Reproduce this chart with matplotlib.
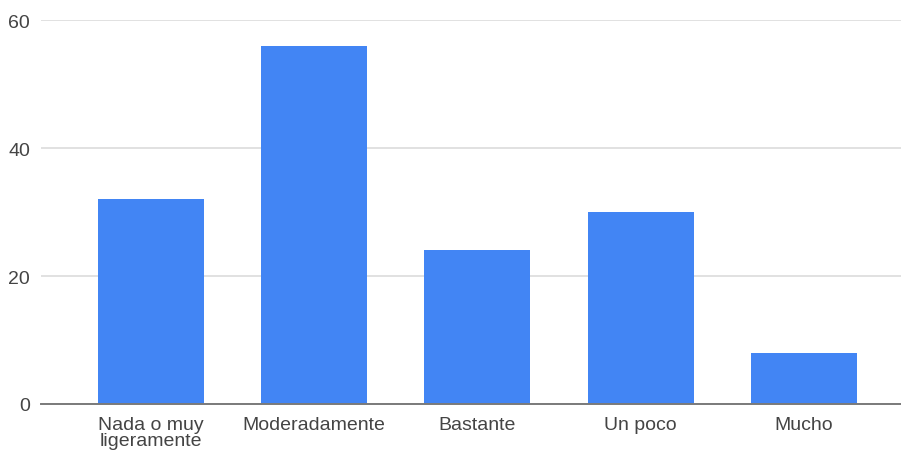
import matplotlib
matplotlib.use('Agg')
import matplotlib.pyplot as plt
import numpy as np

categories = ['Nada o muy\nligeramente', 'Moderadamente', 'Bastante', 'Un poco', 'Mucho']
values = [32, 56, 24, 30, 8]
yticks = [0, 20, 40, 60]

plt.rcParams['font.family'] = ['Liberation Sans', 'DejaVu Sans']

fig = plt.figure(figsize=(9.01, 4.52), dpi=100)
ax = fig.add_axes([41 / 901, 47 / 452, 860 / 901, 384 / 452])

x = np.arange(len(categories))
ax.bar(x, values, width=0.65, color='#4285f4', zorder=3)

ax.set_xlim(-0.674, 4.596)
ax.set_ylim(0, 60)
ax.set_yticks(yticks)
ax.set_xticks(x)
ax.set_xticklabels(categories, linespacing=0.92)

ax.grid(axis='y', color='#dcdcdc', linewidth=1.2, zorder=0)
for s in ['top', 'right', 'left']:
    ax.spines[s].set_visible(False)
ax.spines['bottom'].set_color('#7a7a7a')
ax.spines['bottom'].set_linewidth(1.4)
ax.spines['bottom'].set_zorder(4)

ax.tick_params(axis='both', length=0, labelsize=14, labelcolor='#444444')
ax.tick_params(axis='y', pad=8)
ax.tick_params(axis='x', pad=9)

plt.savefig('out.png', dpi=100)
plt.close()
